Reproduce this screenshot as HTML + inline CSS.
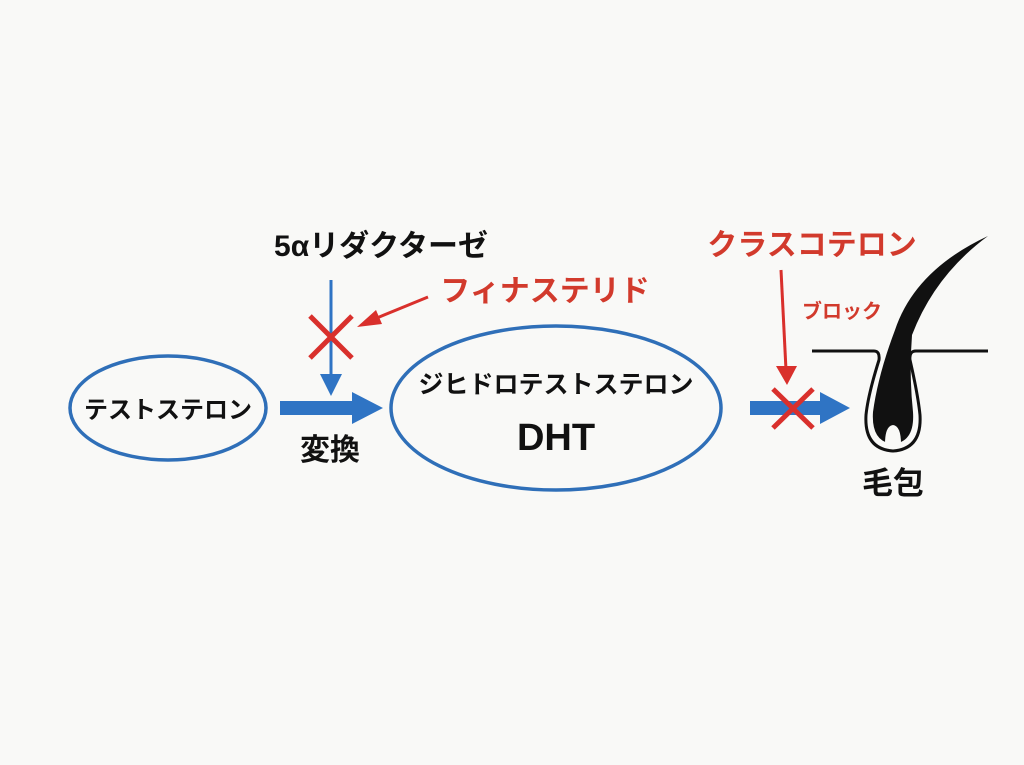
<!DOCTYPE html>
<html><head><meta charset="utf-8"><style>
html,body{margin:0;padding:0;background:#f9f9f7;}
svg{display:block}
text{font-family:"Liberation Sans","Noto Sans CJK JP",sans-serif;font-weight:bold;}
</style></head><body>
<svg width="1024" height="765" viewBox="0 0 1024 765" xmlns="http://www.w3.org/2000/svg">
<rect width="1024" height="765" fill="#f9f9f7"/>
<ellipse cx="168" cy="408" rx="98" ry="52" fill="none" stroke="#2f6fb8" stroke-width="3.5"/>
<text x="168" y="418" font-size="24" text-anchor="middle" fill="#111">テストステロン</text>
<polygon points="280,401 352,401 352,392 383,408 352,424 352,415 280,415" fill="#2f74c4"/>
<text x="330" y="460" font-size="30" text-anchor="middle" fill="#111">変換</text>
<text x="381" y="256" font-size="30" text-anchor="middle" fill="#111">5αリダクターゼ</text>
<line x1="331" y1="280" x2="331" y2="378" stroke="#2f74c4" stroke-width="3"/>
<polygon points="320,374 342,374 331,396" fill="#2f74c4"/>
<g stroke="#d9302c" stroke-width="5"><line x1="310" y1="316" x2="352" y2="358"/><line x1="352" y1="316" x2="310" y2="358"/></g>
<text x="545" y="301" font-size="30" text-anchor="middle" fill="#d23a2c">フィナステリド</text>
<line x1="428" y1="297" x2="372" y2="320" stroke="#d9302c" stroke-width="3"/>
<polygon points="357,327 376,310 382,324" fill="#d9302c"/>
<ellipse cx="556" cy="408" rx="165" ry="82" fill="none" stroke="#2f6fb8" stroke-width="3.5"/>
<text x="556" y="393" font-size="25" text-anchor="middle" fill="#111">ジヒドロテストステロン</text>
<text x="556" y="450" font-size="38" text-anchor="middle" fill="#111">DHT</text>
<polygon points="750,401 820,401 820,392 850,408 820,424 820,415 750,415" fill="#2f74c4"/>
<text x="812" y="255" font-size="30" text-anchor="middle" fill="#d23a2c">クラスコテロン</text>
<text x="842" y="318" font-size="20" text-anchor="middle" fill="#d23a2c">ブロック</text>
<line x1="781" y1="270" x2="786" y2="370" stroke="#d9302c" stroke-width="3"/>
<polygon points="776,366 797,366 787,385" fill="#d9302c"/>
<g stroke="#d9302c" stroke-width="5"><line x1="773" y1="389" x2="813" y2="428"/><line x1="813" y1="389" x2="773" y2="428"/></g>
<path d="M812,351 H874 Q880,351 879,360 Q868,395 866,415 Q864,449 893,451 Q922,449 920,415 Q918,395 910,360 Q909,351 916,351 H988" fill="none" stroke="#111" stroke-width="3"/>
<path d="M988,236 Q915,270 895,330 Q878,375 873,412 Q871,442 893,444 Q915,442 913,412 Q909,375 912,335 Q935,275 988,236 Z" fill="#111"/>
<path d="M885,444 Q885,426 893,425 Q901,426 901,444 Z" fill="#f9f9f7"/>
<text x="893" y="494" font-size="31" text-anchor="middle" fill="#111">毛包</text>
</svg>
</body></html>
